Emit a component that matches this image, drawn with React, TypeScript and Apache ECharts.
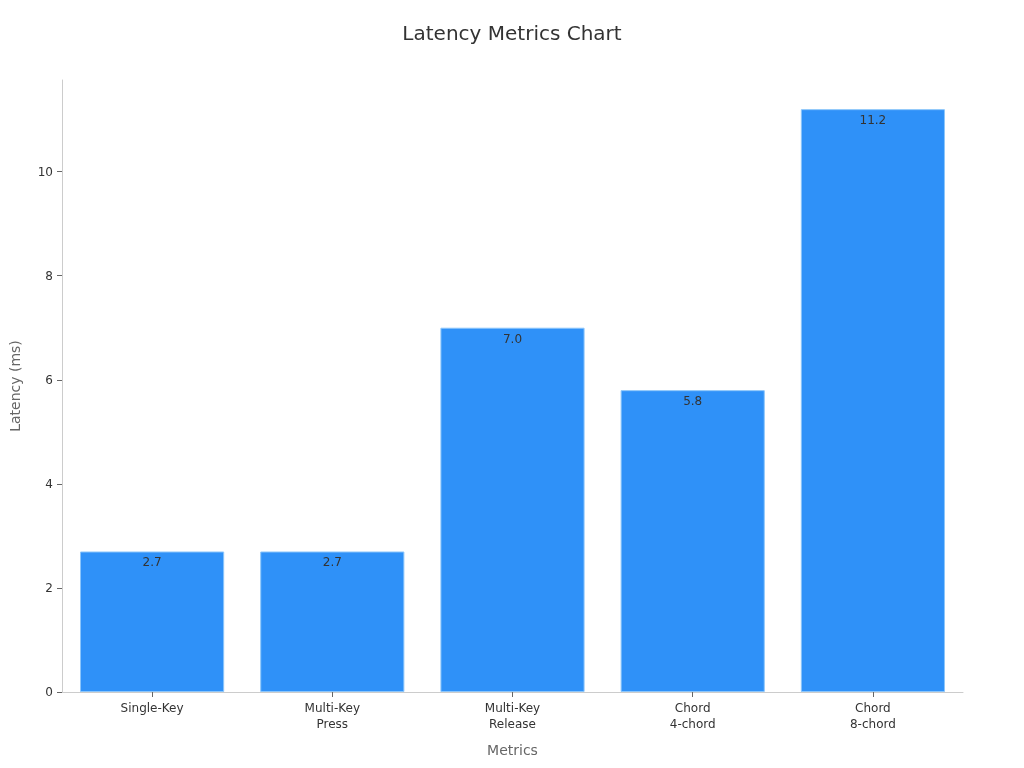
import React, { useEffect, useRef } from "react";
import * as echarts from "echarts";

const categories = ["Single-Key", "Multi-Key\nPress", "Multi-Key\nRelease", "Chord\n4-chord", "Chord\n8-chord"];
const latencies = [2.7, 2.7, 7.0, 5.8, 11.2];

export default function App() {
    const containerRef = useRef<HTMLDivElement | null>(null);

    useEffect(() => {
        if (!containerRef.current) return;
        const inst = echarts.init(containerRef.current, undefined, { renderer: "svg" });

        const option: echarts.EChartsOption = {
            animation: false,
            textStyle: { fontFamily: "DejaVu Sans" },
            title: {
                text: "Latency Metrics Chart",
                left: "center",
                top: 18,
                textStyle: { fontSize: 20, fontWeight: "normal", color: "#333" },
            },
            grid: { left: 59, right: 61, top: 80, bottom: 76 },
            xAxis: {
                type: "category",
                data: categories,
                name: "Metrics",
                nameLocation: "middle",
                nameGap: 51,
                nameTextStyle: { fontSize: 14, color: "#666" },
                axisLine: { lineStyle: { color: "#ccc" } },
                axisTick: { show: true, alignWithLabel: true, length: 5, lineStyle: { color: "#666" } },
                axisLabel: { color: "#333", fontSize: 12, lineHeight: 16, margin: 8 },
            },
            yAxis: {
                type: "value",
                min: 0,
                max: (v: { max: number }) => v.max * 1.05,
                interval: 2,
                name: "Latency (ms)",
                nameLocation: "middle",
                nameGap: 40,
                nameTextStyle: { fontSize: 14, color: "#666" },
                axisLine: { show: true, lineStyle: { color: "#ccc" } },
                axisTick: { show: true, length: 5, lineStyle: { color: "#666" } },
                axisLabel: {
                    color: "#333",
                    fontSize: 12,
                    margin: 9,
                    showMaxLabel: false,
                    formatter: (v: number) => (v % 2 === 0 ? String(v) : ""),
                },
                splitLine: { show: false },
            },
            series: [
                {
                    type: "bar",
                    data: latencies,
                    barCategoryGap: "20%",
                    itemStyle: { color: "#2f91f8", borderColor: "#8cc6fb", borderWidth: 1 },
                    label: {
                        show: true,
                        position: "insideTop",
                        color: "#333",
                        fontSize: 12,
                        formatter: (p: any) => Number(p.value).toFixed(1),
                    },
                },
            ],
        };

        inst.setOption(option);
        return () => inst.dispose();
    }, []);

    return (
        <div
            ref={containerRef}
            style={{ position: "fixed", left: 0, top: 0, width: 1024, height: 768 }}
        />
    );
}
